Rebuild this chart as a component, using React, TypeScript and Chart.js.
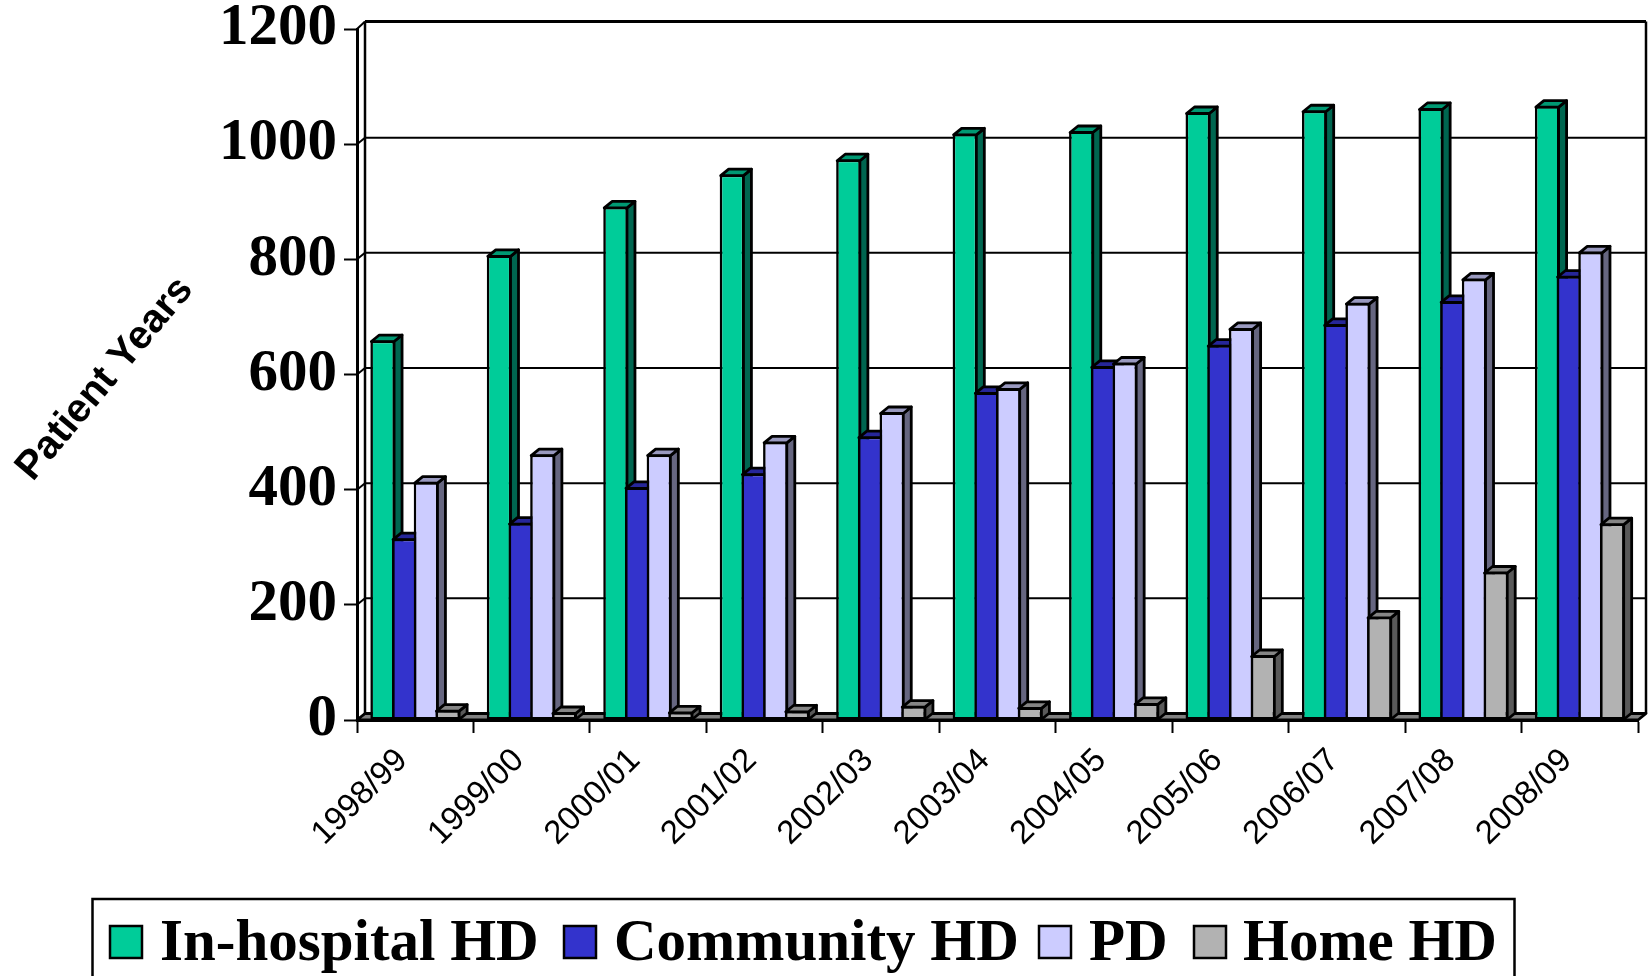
import React, { useEffect, useRef } from "react";
import { Chart, registerables } from "chart.js";

Chart.register(...registerables);

const categories = ["1998/99", "1999/00", "2000/01", "2001/02", "2002/03", "2003/04", "2004/05", "2005/06", "2006/07", "2007/08", "2008/09"];
const inHospitalHD = [659, 807, 891, 947, 973, 1018, 1022, 1055, 1058, 1062, 1066];
const communityHD = [315, 342, 404, 428, 492, 569, 614, 651, 687, 727, 771];
const peritonealPD = [413, 461, 461, 483, 534, 576, 620, 680, 724, 766, 813];
const homeHD = [17, 13, 14, 16, 24, 22, 29, 112, 179, 257, 341];
const yTicks = [0, 200, 400, 600, 800, 1000, 1200];

const DEPTH_X = 8;
const DEPTH_Y = 6.5;
const SERIF = '"Liberation Serif", "Times New Roman", serif';
const SANS = '"Liberation Sans", Arial, sans-serif';

const seriesStyles = [
  { label: "In-hospital HD", data: inHospitalHD, color: "#00CC99", top: "#009973", side: "#006650" },
  { label: "Community HD", data: communityHD, color: "#3333CC", top: "#262699", side: "#1A1A66" },
  { label: "PD", data: peritonealPD, color: "#CCCCFF", top: "#9999BF", side: "#666680" },
  { label: "Home HD", data: homeHD, color: "#B2B2B2", top: "#858585", side: "#595959" },
];
const legendBoxes = [
  { boxX: 110, textX: 160 },
  { boxX: 564, textX: 614 },
  { boxX: 1039, textX: 1089 },
  { boxX: 1194, textX: 1243 },
];

const line = (ctx: CanvasRenderingContext2D, pts: number[][], width: number, color = "#000") => {
  ctx.beginPath();
  pts.forEach(([x, y], i) => (i ? ctx.lineTo(x, y) : ctx.moveTo(x, y)));
  ctx.lineWidth = width;
  ctx.strokeStyle = color;
  ctx.stroke();
};

const poly = (ctx: CanvasRenderingContext2D, pts: number[][], fill: string) => {
  ctx.beginPath();
  pts.forEach(([x, y], i) => (i ? ctx.lineTo(x, y) : ctx.moveTo(x, y)));
  ctx.closePath();
  ctx.fillStyle = fill;
  ctx.fill();
  ctx.lineWidth = 2.8;
  ctx.lineJoin = "round";
  ctx.strokeStyle = "#000";
  ctx.stroke();
};

const wallsPlugin = {
  id: "walls",
  beforeDatasetsDraw(chart: any) {
    const { ctx, chartArea: a, scales } = chart;
    ctx.save();
    const bx = a.left + DEPTH_X;
    const rx = a.right + DEPTH_X;
    const by = a.bottom - DEPTH_Y;
    const ty = a.top - DEPTH_Y - 1;
    // floor
    poly(ctx, [[a.left, a.bottom], [bx, by], [rx, by], [a.right, a.bottom]], "#808080");
    // back wall outlines
    line(ctx, [[bx, ty], [bx, by]], 2.5);
    line(ctx, [[rx, ty], [rx, by]], 2.5);
    yTicks.forEach((v) => {
      const y = scales.y.getPixelForValue(v);
      const w = v === 1200 ? 3 : 2;
      const back = v === 1200 ? ty : y - DEPTH_Y;
      line(ctx, [[a.left, y], [bx, back]], 2);
      if (v > 0) line(ctx, [[bx, back], [rx, back]], w);
    });
    // series left to right, each one's depth hidden by the next one's face
    seriesStyles.forEach((style, index) => {
      const meta = chart.getDatasetMeta(index);
      meta.data.forEach((el: any) => {
        const { x, y, base, width } = el.getProps(["x", "y", "base", "width"], true);
        const l = x - width / 2 + 1;
        const r = x + width / 2 - 1;
        poly(ctx, [[r, y + 1], [r + DEPTH_X, y + 1 - DEPTH_Y], [r + DEPTH_X, base - DEPTH_Y], [r, base]], style.side);
        poly(ctx, [[l, y + 1], [l + DEPTH_X, y + 1 - DEPTH_Y], [r + DEPTH_X, y + 1 - DEPTH_Y], [r, y + 1]], style.top);
      });
      meta.controller.draw();
    });
    ctx.restore();
    return false;
  },
  afterDraw(chart: any) {
    const { ctx } = chart;
    ctx.save();
    // axis title, on a slant
    ctx.translate(105, 379);
    ctx.rotate((-50 * Math.PI) / 180);
    ctx.font = `bold 40px ${SANS}`;
    ctx.fillStyle = "#000";
    ctx.textAlign = "center";
    ctx.textBaseline = "middle";
    ctx.fillText("Patient Years", 0, 0);
    ctx.restore();
    // legend
    ctx.save();
    line(ctx, [[92.5, 980], [92.5, 899], [1514.5, 899], [1514.5, 980]], 2.5);
    ctx.font = `bold 59px ${SERIF}`;
    ctx.textBaseline = "alphabetic";
    ctx.textAlign = "left";
    seriesStyles.forEach((s, i) => {
      const { boxX, textX } = legendBoxes[i];
      ctx.fillStyle = s.color;
      ctx.fillRect(boxX, 926, 32, 32);
      ctx.lineWidth = 2.5;
      ctx.strokeStyle = "#000";
      ctx.strokeRect(boxX, 926, 32, 32);
      ctx.fillStyle = "#000";
      ctx.fillText(s.label, textX, 960);
    });
    ctx.restore();
  },
};

export default function App() {
  const ref = useRef<HTMLCanvasElement>(null);
  useEffect(() => {
    document.body.style.margin = "0";
    document.body.style.background = "#fff";
    const chart = new Chart(ref.current!, {
      type: "bar",
      data: {
        labels: categories,
        datasets: seriesStyles.map((s) => ({
          label: s.label,
          data: s.data,
          backgroundColor: s.color,
          borderColor: "#000",
          borderWidth: 2.6,
          borderSkipped: false,
          categoryPercentage: 0.745,
          barPercentage: 1.14,
        })),
      },
      options: {
        responsive: false,
        animation: false,
        layout: { padding: { top: 29, right: 10, left: 0, bottom: 0 } },
        plugins: { legend: { display: false }, tooltip: { enabled: false }, title: { display: false } },
        scales: {
          x: {
            afterFit: (s: any) => { s.height = 256; s.paddingLeft = 0; s.paddingRight = 0; },
            grid: { drawOnChartArea: false, tickLength: 13, tickColor: "#000", tickWidth: 2, offset: true },
            border: { color: "#000", width: 3, z: 1 },
            ticks: {
              color: "#000",
              font: { family: SANS, size: 33 },
              maxRotation: 45,
              minRotation: 45,
              padding: 8,
              labelOffset: -13,
              autoSkip: false,
            },
          },
          y: {
            min: 0,
            max: 1200,
            afterFit: (s: any) => { s.width = 357; s.paddingTop = 0; s.paddingBottom = 0; },
            afterBuildTicks: (s: any) => { s.ticks = yTicks.map((value) => ({ value })); },
            grid: { drawOnChartArea: false, tickLength: 13, tickColor: "#000", tickWidth: 2 },
            border: { color: "#000", width: 3 },
            ticks: {
              color: "#000",
              font: { family: SERIF, size: 59, weight: "bold" },
              padding: 7,
              callback: (v: any) => String(v),
            },
          },
        },
      },
      plugins: [wallsPlugin],
    } as any);
    return () => chart.destroy();
  }, []);
  return <canvas ref={ref} width={1648} height={976} style={{ display: "block" }} />;
}
